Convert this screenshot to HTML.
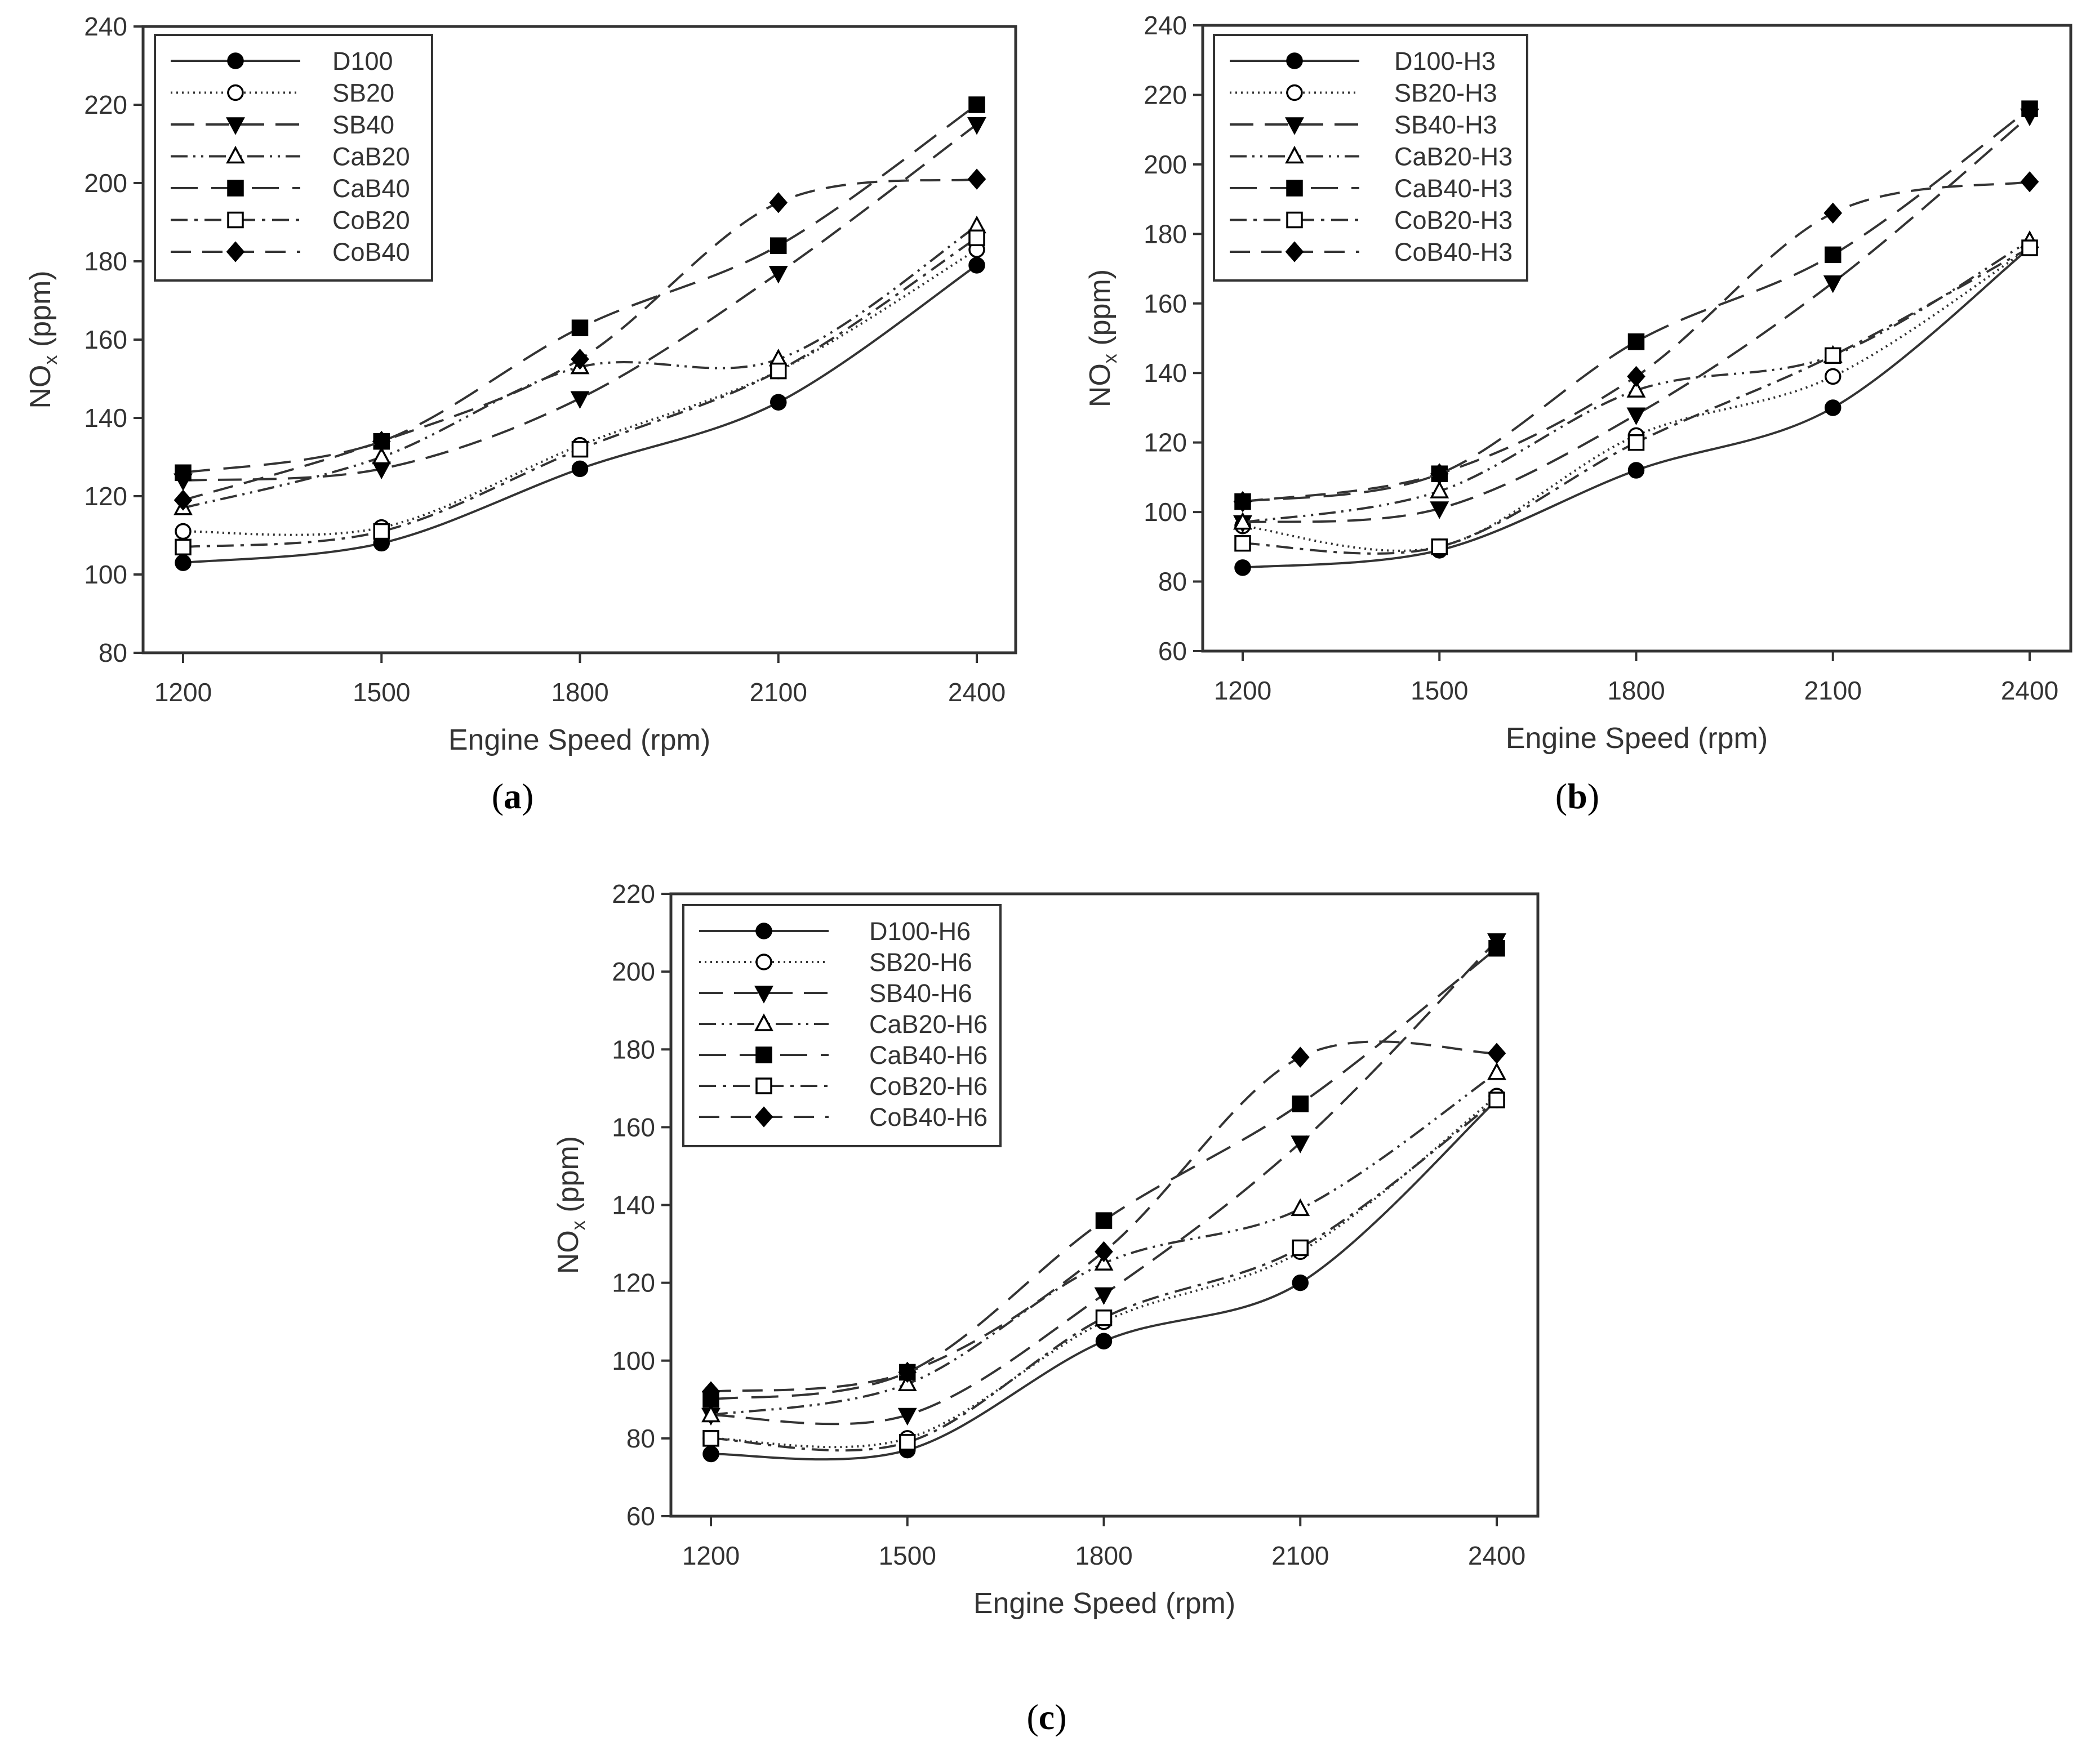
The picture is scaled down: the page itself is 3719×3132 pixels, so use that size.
<!DOCTYPE html>
<html><head><meta charset="utf-8">
<style>
html,body{margin:0;padding:0;background:#fff;}
svg{display:block;}
text{font-family:"Liberation Sans",Arial,sans-serif;fill:#333;}
.cap{font-family:"Liberation Serif",serif;fill:#000;}
</style></head>
<body>
<svg id="fig" width="3719" height="3132" viewBox="0 0 3719 3132" xmlns="http://www.w3.org/2000/svg"></svg>
<script>
const categories = [1200, 1500, 1800, 2100, 2400];
const seriesNamesA = ["D100","SB20","SB40","CaB20","CaB40","CoB20","CoB40"];
const seriesNamesB = ["D100-H3","SB20-H3","SB40-H3","CaB20-H3","CaB40-H3","CoB20-H3","CoB40-H3"];
const seriesNamesC = ["D100-H6","SB20-H6","SB40-H6","CaB20-H6","CaB40-H6","CoB20-H6","CoB40-H6"];
const d100A = [103,108,127,144,179];
const sb20A = [111,112,133,152,183];
const sb40A = [124,127,145,177,215];
const cab20A = [117,130,153,155,189];
const cab40A = [126,134,163,184,220];
const cob20A = [107,111,132,152,186];
const cob40A = [119,134,155,195,201];
const d100B = [84,89,112,130,176];
const sb20B = [96,90,122,139,176];
const sb40B = [97,101,128,166,214];
const cab20B = [97,106,135,145,178];
const cab40B = [103,111,149,174,216];
const cob20B = [91,90,120,145,176];
const cob40B = [103,111,139,186,195];
const d100C = [76,77,105,120,167];
const sb20C = [80,80,110,128,168];
const sb40C = [86,86,117,156,208];
const cab20C = [86,94,125,139,174];
const cab40C = [90,97,136,166,206];
const cob20C = [80,79,111,129,167];
const cob40C = [92,97,128,178,179];
const yTicksA = [80,100,120,140,160,180,200,220,240];
const yTicksB = [60,80,100,120,140,160,180,200,220,240];
const yTicksC = [60,80,100,120,140,160,180,200,220];

const NS = "http://www.w3.org/2000/svg";
const svg = document.getElementById('fig');
function mk(tag, attrs, parent){ const e=document.createElementNS(NS,tag); for(const k in attrs) e.setAttribute(k,attrs[k]); (parent||svg).appendChild(e); return e; }

const styles = [
  {dash:"", marker:"circle", fill:"#000"},
  {dash:"3,7", marker:"circle", fill:"#fff"},
  {dash:"42,20", marker:"tridown", fill:"#000"},
  {dash:"30,10,4,10,4,10", marker:"triup", fill:"#fff"},
  {dash:"48,24", marker:"square", fill:"#000"},
  {dash:"30,12,6,12", marker:"square", fill:"#fff"},
  {dash:"36,20", marker:"diamond", fill:"#000"}
];

function marker(g, type, fill, x, y){
  const a = {fill:fill, stroke:"#000", "stroke-width":3.5};
  let e;
  if(type==="circle") e = mk('circle', Object.assign({cx:x,cy:y,r:13},a), g);
  else if(type==="square") e = mk('rect', Object.assign({x:x-13,y:y-13,width:26,height:26},a), g);
  else if(type==="triup") e = mk('polygon', Object.assign({points:`${x},${y-15} ${x-14},${y+11} ${x+14},${y+11}`},a), g);
  else if(type==="tridown") e = mk('polygon', Object.assign({points:`${x},${y+15} ${x-14},${y-11} ${x+14},${y-11}`},a), g);
  else e = mk('polygon', Object.assign({points:`${x},${y-16} ${x+14},${y} ${x},${y+16} ${x-14},${y}`},a), g);
  
  
  return e;
}

function spline(pts){
  let d = `M${pts[0][0]},${pts[0][1]}`;
  for(let i=0;i<pts.length-1;i++){
    const p0=pts[Math.max(0,i-1)], p1=pts[i], p2=pts[i+1], p3=pts[Math.min(pts.length-1,i+2)];
    const c1=[p1[0]+(p2[0]-p0[0])/6, p1[1]+(p2[1]-p0[1])/6];
    const c2=[p2[0]-(p3[0]-p1[0])/6, p2[1]-(p3[1]-p1[1])/6];
    d += ` C${c1[0]},${c1[1]} ${c2[0]},${c2[1]} ${p2[0]},${p2[1]}`;
  }
  return d;
}

function chart(cfg){
  const g = mk('g',{});
  
  
  const L=cfg.left,R=cfg.right,T=cfg.top,B=cfg.bottom;
  const ymin=cfg.yTicks[0], ymax=cfg.yTicks[cfg.yTicks.length-1];
  const xs = v => cfg.x1200 + (v-1200)*(cfg.x2400-cfg.x1200)/1200;
  const ys = v => B - (v-ymin)*(B-T)/(ymax-ymin);
  const frame = mk('rect',{x:L,y:T,width:R-L,height:B-T,fill:"none",stroke:"#333","stroke-width":5},g);
  
  
  cfg.yTicks.forEach(t=>{
    const y=ys(t);
    const tk = mk('line',{x1:L-17,x2:L,y1:y,y2:y,stroke:"#333","stroke-width":4},g);
    
    
    const tx = mk('text',{x:L-28,y:y+16,"font-size":46,"text-anchor":"end"},g);
    tx.textContent=t;
    
    
  });
  categories.forEach(c=>{
    const x=xs(c);
    const tk = mk('line',{x1:x,x2:x,y1:B,y2:B+18,stroke:"#333","stroke-width":4},g);
    
    
    const tx = mk('text',{x:x,y:B+86,"font-size":46,"text-anchor":"middle"},g);
    tx.textContent=c;
    
    
  });
  const xt = mk('text',{x:(L+R)/2,y:B+172,"font-size":52,"text-anchor":"middle"},g);
  xt.textContent="Engine Speed (rpm)";
  
  
  const yt = mk('text',{x:0,y:0,"font-size":52,"text-anchor":"middle",transform:`translate(${L-165},${(T+B)/2}) rotate(-90)`},g);
  yt.innerHTML = 'NO<tspan font-size="34" dy="12">x</tspan><tspan dy="-12"> (ppm)</tspan>';
  
  
  cfg.series.forEach((vals,i)=>{
    const st=styles[i];
    const pts = vals.map((v,j)=>[xs(categories[j]), ys(v)]);
    const p = mk('path',{d:spline(pts),fill:"none",stroke:"#333","stroke-width":4,"stroke-dasharray":st.dash},g);
    
    
    pts.forEach(pt=>marker(g,st.marker,st.fill,pt[0],pt[1]));
  });
  const lg = mk('g',{},g);
  
  
  const lb = mk('rect',{x:cfg.leg[0],y:cfg.leg[1],width:cfg.leg[2],height:cfg.leg[3],fill:"#fff",stroke:"#333","stroke-width":4},lg);
  
  
  cfg.names.forEach((n,i)=>{
    const st=styles[i];
    const y = cfg.leg[1]+46+i*cfg.legStep;
    const lx = cfg.leg[0]+28;
    const ln = mk('line',{x1:lx,x2:lx+230,y1:y,y2:y,stroke:"#333","stroke-width":4,"stroke-dasharray":st.dash},lg);
    
    
    marker(lg,st.marker,st.fill,lx+115,y);
    const tx = mk('text',{x:cfg.leg[0]+cfg.legTextX,y:y+16,"font-size":45},lg);
    tx.textContent=n;
    
    
  });
  const cap = mk('text',{x:cfg.cap[0],y:cfg.cap[1],"font-size":64,"text-anchor":"middle",class:"cap"},g);
  cap.innerHTML = '(<tspan font-weight="bold">'+cfg.capLetter+'</tspan>)';
  
  
}

chart({name:"chart-a",left:254,right:1803,top:47,bottom:1159,x1200:325,x2400:1734,yTicks:yTicksA,
  series:[d100A,sb20A,sb40A,cab20A,cab40A,cob20A,cob40A],names:seriesNamesA,
  leg:[275,62,492,436],legStep:56.5,legTextX:315,cap:[910,1435],capLetter:"a"});
chart({name:"chart-b",left:2135,right:3676,top:45,bottom:1156,x1200:2206,x2400:3603,yTicks:yTicksB,
  series:[d100B,sb20B,sb40B,cab20B,cab40B,cob20B,cob40B],names:seriesNamesB,
  leg:[2155,62,556,436],legStep:56.5,legTextX:320,cap:[2800,1435],capLetter:"b"});
chart({name:"chart-c",left:1191,right:2730,top:1587,bottom:2692,x1200:1262,x2400:2657,yTicks:yTicksC,
  series:[d100C,sb20C,sb40C,cab20C,cab40C,cob20C,cob40C],names:seriesNamesC,
  leg:[1213,1607,563,428],legStep:55,legTextX:330,cap:[1858,3070],capLetter:"c"});
</script>
</body></html>
